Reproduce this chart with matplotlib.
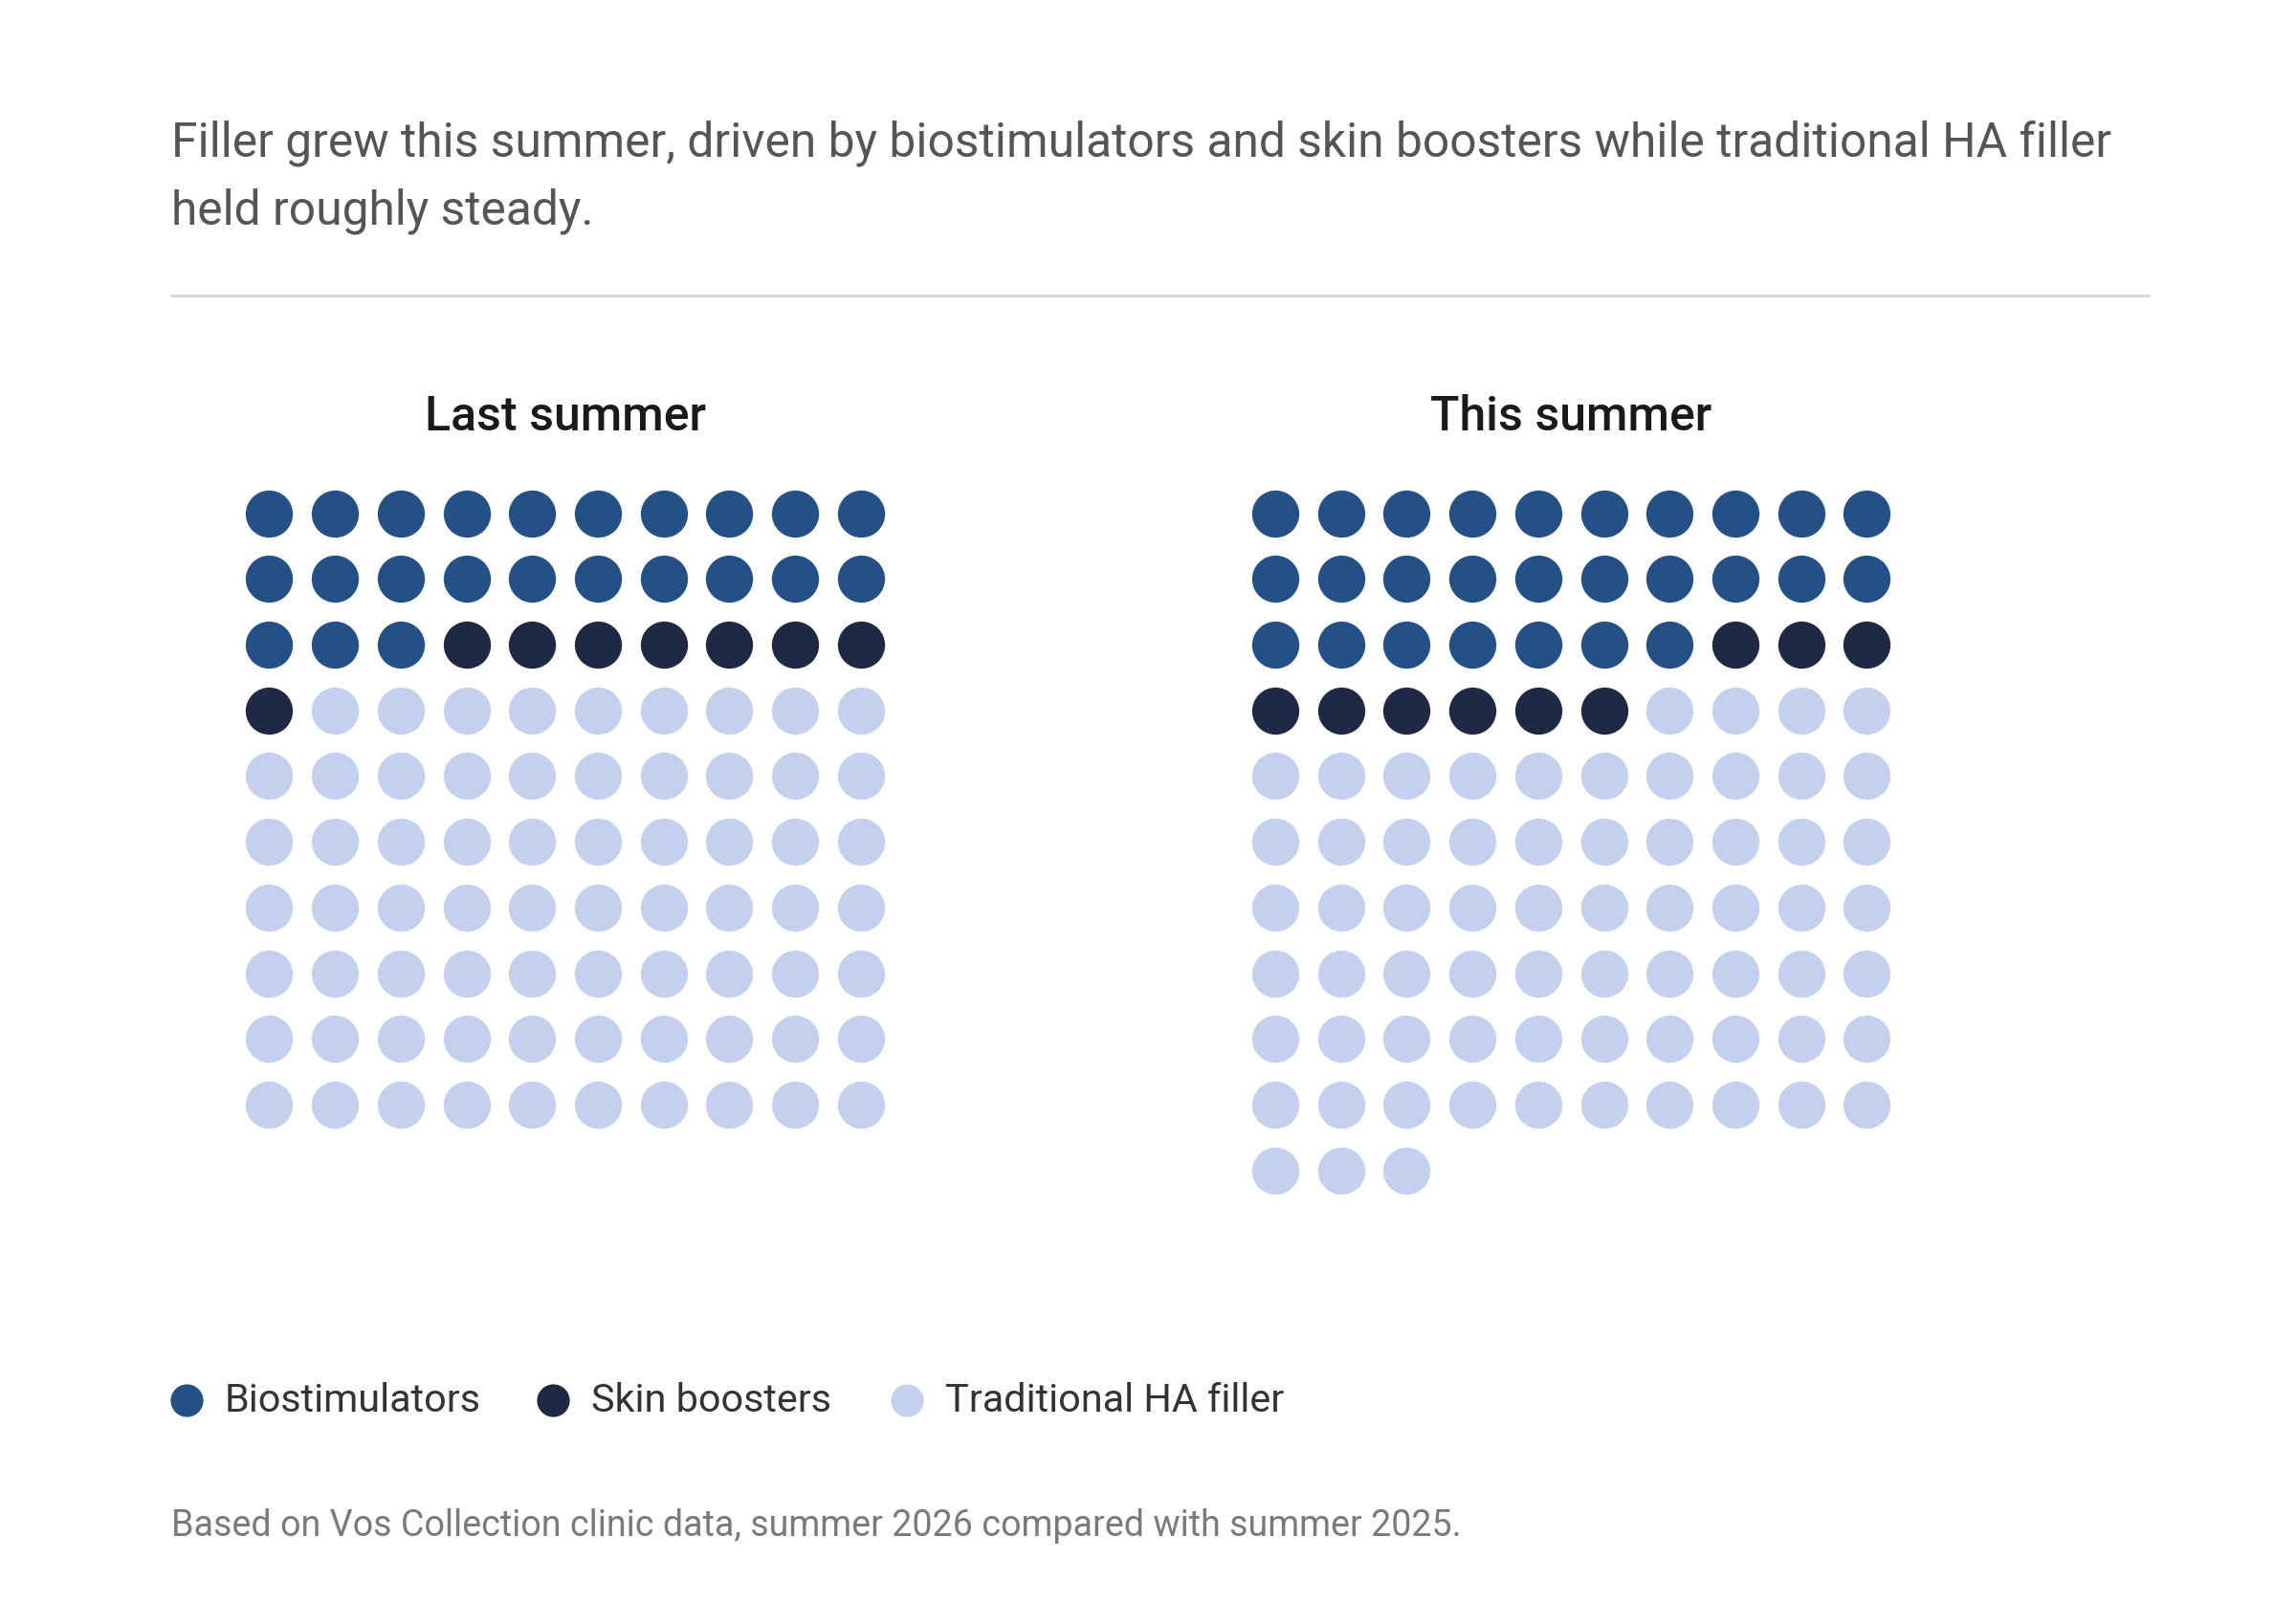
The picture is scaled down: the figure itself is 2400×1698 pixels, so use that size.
import matplotlib.pyplot as plt
import numpy as np

plt.rcParams['font.family'] = ['Roboto', 'DejaVu Sans']

# counts of dots (one dot per unit)
categories = ["Biostimulators", "Skin boosters", "Traditional HA filler"]
colors = ["#245088", "#1f2944", "#c3d0ee"]
last_summer = [23, 8, 69]
this_summer = [27, 9, 67]
panel_titles = ["Last summer", "This summer"]

title = ("Filler grew this summer, driven by biostimulators and skin boosters while traditional HA filler\n"
         "held roughly steady.")
footnote = "Based on Vos Collection clinic data, summer 2026 compared with summer 2025."

W, H = 2400, 1698
fig = plt.figure(figsize=(12, 8.49), dpi=200)


def px(x, y):
    return x / W, 1 - y / H


def waffle(ax, counts, ncols=10):
    idx = 0
    for count, color in zip(counts, colors):
        cells = np.arange(idx, idx + count)
        ax.scatter(cells % ncols, cells // ncols, s=315, color=color, linewidths=0)
        idx += count
    ax.set_xlim(-0.5, ncols - 0.5)
    ax.set_ylim(10.5, -0.5)
    ax.axis('off')


cell = 68.7
for i, (counts, name) in enumerate(zip([last_summer, this_summer], panel_titles)):
    x0 = [281.4, 1333.0][i] - cell / 2
    y0 = 536.6 - cell / 2
    ax = fig.add_axes([x0 / W, 1 - (y0 + 11 * cell) / H, 10 * cell / W, 11 * cell / H])
    waffle(ax, counts)
    fig.text(*px(x0 + 5 * cell, 436), name, ha='center', va='center',
             fontsize=18, fontweight='medium', color='#1a1a1a')

fig.text(*px(179, 185), title, ha='left', va='center', fontsize=17.9,
         color='#555555', linespacing=1.59)
fig.add_artist(plt.Line2D([179 / W, 2246 / W], [1 - 309 / H] * 2, color='#d6d6d6', lw=1.0))

# legend
leg_x = [195, 578, 948]
for xm, name, color in zip(leg_x, categories, colors):
    fig.add_artist(plt.Line2D([xm / W], [1 - 1464 / H], marker='o', markersize=12.3,
                              color=color, markeredgewidth=0, linestyle='none'))
    fig.text(*px(xm + 40, 1464), name, ha='left', va='center', fontsize=14.9, color='#333333')

fig.text(*px(179, 1595), footnote, ha='left', va='center', fontsize=13.55, color='#7a7a7a')

fig.savefig("out.png", dpi=200, facecolor='white')
